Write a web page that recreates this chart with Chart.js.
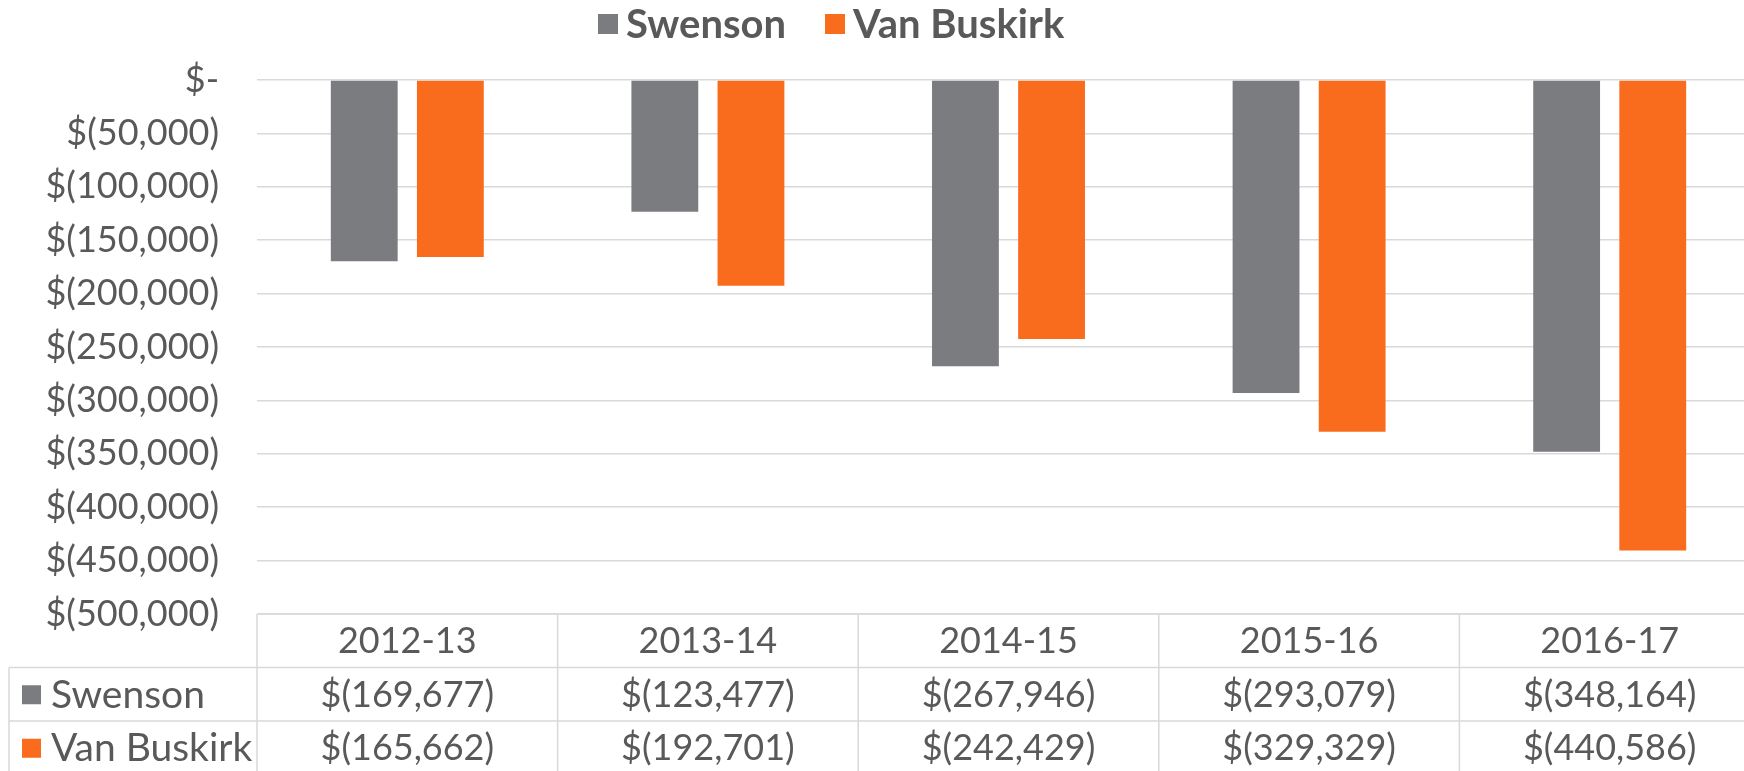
<!DOCTYPE html>
<html>
<head>
<meta charset="utf-8">
<script src="https://cdn.jsdelivr.net/npm/chart.js@4/dist/chart.umd.min.js"></script>
<style>
html, body { margin: 0; padding: 0; background: #fff; overflow: hidden; width: 1744px; height: 771px; }
#wrap { position: absolute; left: 0; top: 0; width: 1760px; height: 776px; }
</style>
</head>
<body>
<div id="wrap"><canvas id="c" width="1760" height="776"></canvas></div>
<script>
const categories = ['2012-13', '2013-14', '2014-15', '2015-16', '2016-17'];
const seriesNames = ['Swenson', 'Van Buskirk'];
const swenson = [-169677, -123477, -267946, -293079, -348164];
const vanBuskirk = [-165662, -192701, -242429, -329329, -440586];
const yTicks = [0, -50000, -100000, -150000, -200000, -250000, -300000, -350000, -400000, -450000, -500000];

const COLORS = ['#7B7C80', '#F96C1D'];
const TEXT = '#595959';
const GRID = '#D9D9D9';
const FONT = 'Lato, "Open Sans", sans-serif';

function money(v) {
  if (v === 0) return '$-';
  const s = Math.abs(v).toLocaleString('en-US');
  return v < 0 ? '$(' + s + ')' : '$' + s;
}

const tablePlugin = {
  id: 'dataTable',
  afterDraw(chart) {
    const ctx = chart.ctx;
    const area = chart.chartArea;
    const xs = chart.scales.x;
    const n = categories.length;
    const catW = (area.right - area.left) / n;
    const rowH = 53.5;
    const top = area.bottom;
    const labelLeft = 9;
    const bottom = top + rowH * 3;
    ctx.save();
    ctx.strokeStyle = GRID;
    ctx.lineWidth = 1.5;
    ctx.beginPath();
    ctx.moveTo(area.left, top); ctx.lineTo(area.right, top);
    for (let r = 1; r <= 3; r++) {
      ctx.moveTo(labelLeft, top + rowH * r); ctx.lineTo(area.right, top + rowH * r);
    }
    for (let i = 0; i <= n; i++) {
      const x = i < n ? xs.getPixelForValue(i) - catW / 2 : xs.getPixelForValue(n - 1) + catW / 2;
      ctx.moveTo(x, top); ctx.lineTo(x, bottom);
    }
    ctx.moveTo(labelLeft, top + rowH); ctx.lineTo(labelLeft, bottom);
    ctx.stroke();

    ctx.fillStyle = TEXT;
    ctx.font = '36px ' + FONT;
    ctx.textAlign = 'center';
    ctx.textBaseline = 'middle';
    categories.forEach((c, i) => {
      ctx.fillText(c, xs.getPixelForValue(i), top + rowH / 2 + 1);
    });
    const rows = [swenson, vanBuskirk];
    rows.forEach((vals, r) => {
      const cy = top + rowH * (r + 1) + rowH / 2 + 1;
      ctx.font = '36px ' + FONT;
      vals.forEach((v, i) => {
        ctx.fillStyle = TEXT;
        ctx.textAlign = 'center';
        ctx.fillText(money(v), xs.getPixelForValue(i), cy);
      });
      ctx.fillStyle = COLORS[r];
      ctx.fillRect(22, cy - 10, 19, 19);
      ctx.fillStyle = TEXT;
      ctx.textAlign = 'left';
      ctx.font = '39px ' + FONT;
      ctx.fillText(seriesNames[r], 51, cy);
    });

    // legend
    ctx.font = 'bold 40px ' + FONT;
    ctx.textBaseline = 'middle';
    ctx.textAlign = 'left';
    const legendX = [598, 825];
    seriesNames.forEach((name, i) => {
      ctx.fillStyle = COLORS[i];
      ctx.fillRect(legendX[i], 14, 20, 20);
      ctx.fillStyle = TEXT;
      ctx.fillText(name, legendX[i] + 28, 25);
    });
    ctx.restore();
  }
};

new Chart(document.getElementById('c'), {
  type: 'bar',
  data: {
    labels: categories,
    datasets: [
      { label: seriesNames[0], data: swenson, backgroundColor: COLORS[0], categoryPercentage: 0.573, barPercentage: 0.776 },
      { label: seriesNames[1], data: vanBuskirk, backgroundColor: COLORS[1], categoryPercentage: 0.573, barPercentage: 0.776 }
    ]
  },
  options: {
    responsive: false,
    animation: false,
    devicePixelRatio: 1,
    layout: { padding: { left: 0, right: 0, top: 80, bottom: 162 } },
    plugins: { legend: { display: false }, tooltip: { enabled: false } },
    scales: {
      x: { display: false },
      y: {
        min: -500000,
        max: 0,
        afterFit(scale) { scale.width = 257; },
        afterBuildTicks(scale) { scale.ticks = yTicks.map(v => ({ value: v })); },
        border: { display: false },
        grid: { color: GRID, lineWidth: 1.5, drawTicks: false },
        ticks: {
          padding: 38,
          color: TEXT,
          font: { family: FONT, size: 36 },
          callback: (v) => money(v)
        }
      }
    }
  },
  plugins: [tablePlugin]
});
</script>
</body>
</html>
